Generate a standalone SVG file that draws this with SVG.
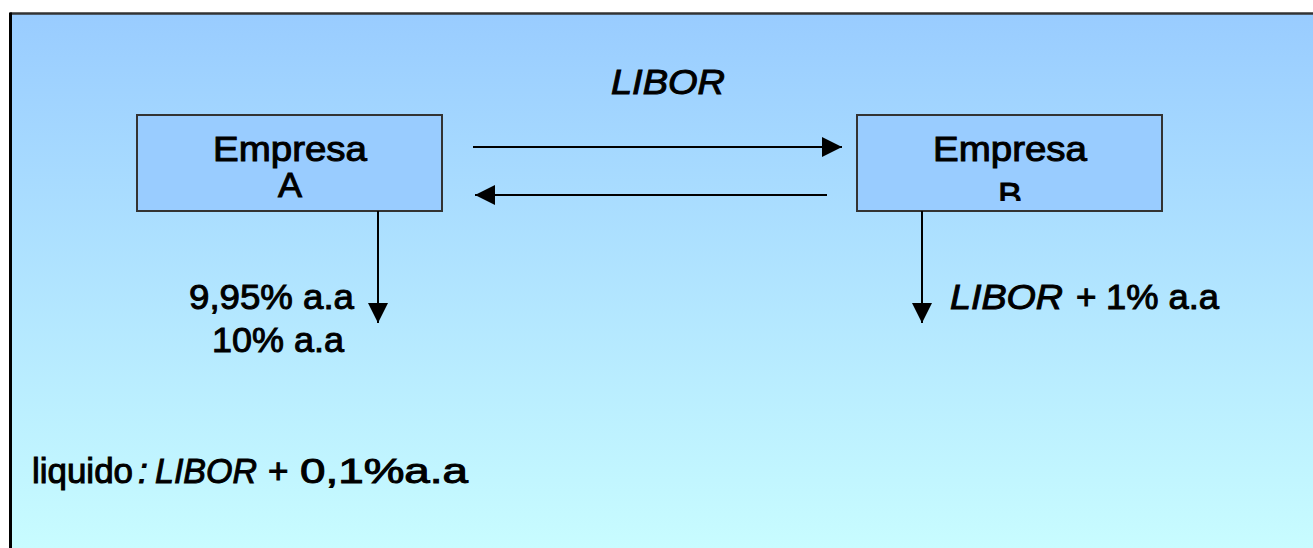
<svg xmlns="http://www.w3.org/2000/svg" width="1313" height="548" viewBox="0 0 1313 548">
<style>
text{font-family:"Liberation Sans",Arial,sans-serif;font-size:35px;fill:#000;stroke:#000;stroke-width:1}
.it{font-style:italic}
.box{fill:#99CCFF;stroke:#333;stroke-width:2}
.conn{stroke:#000;stroke-width:2;fill:none;marker-end:url(#ah)}
</style>
<defs>
<linearGradient id="bg" x1="0" y1="13" x2="0" y2="548" gradientUnits="userSpaceOnUse">
<stop offset="0" stop-color="#99CCFF"/>
<stop offset="1" stop-color="#C8FCFF"/>
</linearGradient>
<marker id="ah" markerUnits="userSpaceOnUse" markerWidth="20" markerHeight="20" refX="20" refY="10" orient="auto" viewBox="0 0 20 20">
<path d="M0,0 L20,10 L0,20 Z" fill="#000"/>
</marker>
<clipPath id="clipA"><rect x="137" y="115" width="305" height="87"/></clipPath>
<clipPath id="clipB"><rect x="857" y="115" width="305" height="86"/></clipPath>
</defs>
<rect x="0" y="0" width="1313" height="548" fill="#fff"/>
<rect x="10" y="13.5" width="1310" height="540" fill="url(#bg)"/>
<line x1="10" y1="13.5" x2="1313" y2="13.5" stroke="#333" stroke-width="2.5"/>
<line x1="10.5" y1="12.5" x2="10.5" y2="548" stroke="#000" stroke-width="3"/>
<g id="nodeA">
<rect class="box" x="137" y="115" width="305" height="96"/>
<g clip-path="url(#clipA)">
<text x="213" y="161" textLength="154" lengthAdjust="spacingAndGlyphs">Empresa</text>
<text x="278" y="197" font-size="26" textLength="24" lengthAdjust="spacingAndGlyphs">A</text>
</g>
</g>
<g id="nodeB">
<rect class="box" x="857" y="115" width="305" height="96"/>
<g clip-path="url(#clipB)">
<text x="933" y="161" textLength="154" lengthAdjust="spacingAndGlyphs">Empresa</text>
<text x="998" y="207" textLength="24" lengthAdjust="spacingAndGlyphs">B</text>
</g>
</g>
<g id="connectors">
<line class="conn" x1="473" y1="147" x2="842" y2="147"/>
<line class="conn" x1="827" y1="195" x2="475" y2="195"/>
<line class="conn" x1="378" y1="211" x2="378" y2="323"/>
<line class="conn" x1="922" y1="211" x2="922" y2="323"/>
</g>
<g id="labels">
<text class="it" x="611" y="94" textLength="114" lengthAdjust="spacingAndGlyphs">LIBOR</text>
<text x="189" y="309" textLength="165" lengthAdjust="spacingAndGlyphs">9,95% a.a</text>
<text x="212" y="352" textLength="132" lengthAdjust="spacingAndGlyphs">10% a.a</text>
<text class="it" x="950" y="309" textLength="113" lengthAdjust="spacingAndGlyphs">LIBOR</text>
<text x="1076" y="309">+</text>
<text x="1106" y="309" textLength="113" lengthAdjust="spacingAndGlyphs">1% a.a</text>
<text x="32" y="483" textLength="101" lengthAdjust="spacingAndGlyphs">liquido</text>
<text class="it" x="138" y="483">:</text>
<text class="it" x="155" y="483" textLength="102" lengthAdjust="spacingAndGlyphs">LIBOR</text>
<text x="268" y="483">+</text>
<text x="300" y="483" textLength="168" lengthAdjust="spacingAndGlyphs">0,1%a.a</text>
</g>
</svg>
